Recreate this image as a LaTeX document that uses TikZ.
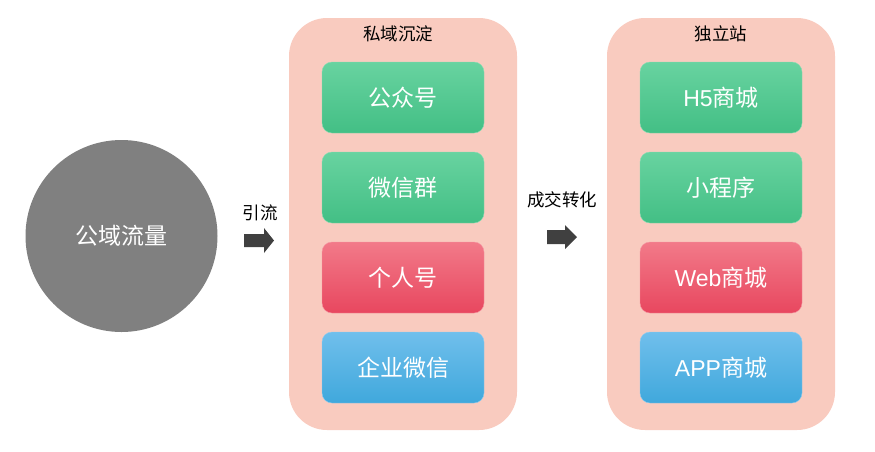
\documentclass[tikz,border=0pt]{standalone}
\usepackage{fontspec}
\setmainfont{Liberation Sans}
\newfontfamily\cjk{Noto Sans CJK SC}
\definecolor{panel}{HTML}{F9CBBF}
\definecolor{gtop}{HTML}{68D3A0}
\definecolor{gbot}{HTML}{43BF85}
\definecolor{rtop}{HTML}{F27A89}
\definecolor{rbot}{HTML}{E8475F}
\definecolor{btop}{HTML}{70BFEC}
\definecolor{bbot}{HTML}{40A8DC}
\definecolor{arrowc}{HTML}{404040}
\definecolor{circ}{HTML}{808080}
\tikzset{
  panelbox/.style={fill=panel, draw=none, rounded corners=38pt, minimum width=228pt, minimum height=412pt, inner sep=0pt},
  itembox/.style={rounded corners=10pt, minimum width=162pt, minimum height=71pt, inner sep=0pt, text=white, font=\fontsize{23}{26}\selectfont},
  greenbox/.style={itembox, top color=gtop, bottom color=gbot, draw=gtop!80!white},
  redbox/.style={itembox, top color=rtop, bottom color=rbot, draw=rtop!80!white},
  bluebox/.style={itembox, top color=btop, bottom color=bbot, draw=btop!80!white},
  title/.style={font=\cjk\fontsize{17.5}{20}\selectfont, text=black},
  blockarrow/.style={fill=arrowc, draw=none},
}
\begin{document}
\begin{tikzpicture}[x=1pt,y=-1pt]
\useasboundingbox (0,0) rectangle (875,451);
% circle
\node[circle, fill=circ, minimum size=192pt, inner sep=0pt, text=white, font=\cjk\fontsize{23}{26}\selectfont] (pub) at (121.5,236) {公域流量};
% panels
\node[panelbox] (priv) at (403,224) {};
\node[panelbox] (site) at (721,224) {};
\node[title] (privt) at (398,34) {私域沉淀};
\node[title] (sitet) at (721,34) {独立站};
% left items
\node[greenbox] (gzh) at (403,97.5) {\cjk 公众号};
\node[greenbox] (wxq) at (403,187.5) {\cjk 微信群};
\node[redbox] (grh) at (403,277.5) {\cjk 个人号};
\node[bluebox] (qywx) at (403,367.5) {\cjk 企业微信};
% right items
\node[greenbox] (h5) at (721,97.5) {H5{\cjk 商城}};
\node[greenbox] (xcx) at (721,187.5) {\cjk 小程序};
\node[redbox] (web) at (721,277.5) {Web{\cjk 商城}};
\node[bluebox] (app) at (721,367.5) {APP{\cjk 商城}};
% arrows
\node[title] (yl) at (260,213) {引流};
\coordinate (a1) at (244,240.5);
\fill[blockarrow] (a1) ++(0,-6.5) -- ++(20,0) -- ++(0,-6) -- ++(10,12.5) -- ++(-10,12.5) -- ++(0,-6) -- ++(-20,0) -- cycle;
\node[title] (cj) at (562,200) {成交转化};
\coordinate (a2) at (547,237);
\fill[blockarrow] (a2) ++(0,-7) -- ++(18,0) -- ++(0,-5) -- ++(12,12) -- ++(-12,12) -- ++(0,-5) -- ++(-18,0) -- cycle;
\end{tikzpicture}
\end{document}
